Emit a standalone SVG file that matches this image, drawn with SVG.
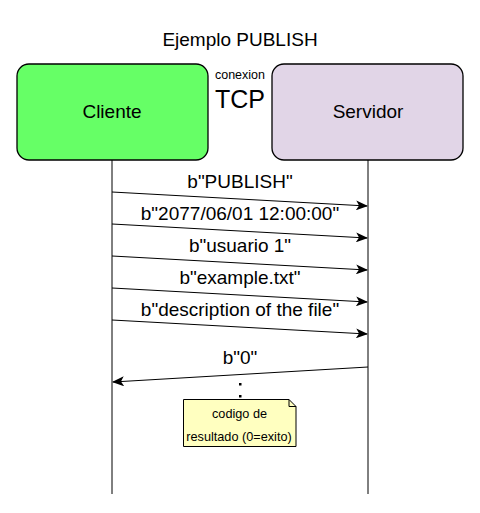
<svg xmlns="http://www.w3.org/2000/svg" width="480" height="513" viewBox="0 0 480 513">
  <style>
    text { font-family: "Liberation Sans", Arial, sans-serif; fill: #000; text-anchor: middle; }
    .box { stroke: #000; stroke-width: 1.3; }
    .life { stroke: #000; stroke-width: 1; fill: none; }
    .msg { stroke: #000; stroke-width: 1; fill: none; marker-end: url(#head); }
    .lbl { font-size: 19px; }
    .note { fill: #ffffc0; stroke: #000; stroke-width: 1; }
  </style>
  <defs>
    <marker id="head" viewBox="0 0 12 10" refX="11" refY="5" markerWidth="12" markerHeight="10" markerUnits="userSpaceOnUse" orient="auto">
      <path d="M0,0 L12,5 L0,10 L3,5 Z" fill="#000"/>
    </marker>
  </defs>

  <rect width="480" height="513" fill="#fff"/>

  <text x="240" y="46" font-size="19">Ejemplo PUBLISH</text>
  <text x="240" y="79" font-size="12.5">conexion</text>
  <text x="240" y="108" font-size="25">TCP</text>

  <g id="cliente">
    <rect class="box" x="17" y="64" width="191" height="96" rx="12" fill="#66ff66"/>
    <text x="112" y="118" font-size="19">Cliente</text>
  </g>

  <g id="servidor">
    <rect class="box" x="272" y="64" width="191" height="96" rx="12" fill="#e1d5e7"/>
    <text x="368" y="118" font-size="19">Servidor</text>
  </g>

  <g id="connectors">
    <line class="life" x1="112" y1="160" x2="112" y2="494"/>
    <line class="life" x1="368" y1="160" x2="368" y2="494"/>

    <line class="msg" x1="112" y1="192" x2="367" y2="206"/>
    <line class="msg" x1="112" y1="224" x2="367" y2="238"/>
    <line class="msg" x1="112" y1="256" x2="367" y2="270"/>
    <line class="msg" x1="112" y1="288" x2="367" y2="302"/>
    <line class="msg" x1="112" y1="320" x2="367" y2="334"/>
    <line class="msg" x1="368" y1="367" x2="113" y2="382"/>

    <text class="lbl" x="240" y="188">b"PUBLISH"</text>
    <text class="lbl" x="240" y="220">b"2077/06/01 12:00:00"</text>
    <text class="lbl" x="240" y="252">b"usuario 1"</text>
    <text class="lbl" x="240" y="284">b"example.txt"</text>
    <text class="lbl" x="240" y="316">b"description of the file"</text>
    <text class="lbl" x="240" y="364">b"0"</text>

    <rect x="239" y="383" width="2.5" height="2.5" fill="#000"/>
    <rect x="239" y="395" width="2.5" height="2.5" fill="#000"/>
  </g>

  <g id="nota">
    <path class="note" d="M183.5,399.5 H289 L296,406.5 V446.5 H183.5 Z"/>
    <path d="M289,399.5 V406.5 H296" fill="none" stroke="#000" stroke-width="1"/>
    <text x="239.5" y="418" font-size="12.7">codigo de</text>
    <text x="239" y="441" font-size="12.7">resultado (0=exito)</text>
  </g>
</svg>
